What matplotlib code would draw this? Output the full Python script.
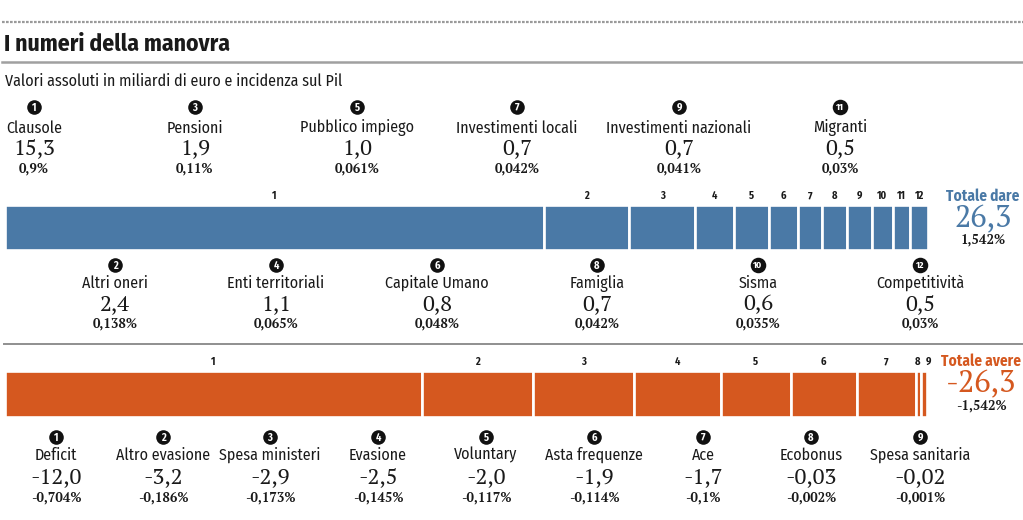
import matplotlib
matplotlib.use("Agg")
import matplotlib.pyplot as plt
import numpy as np

# ---------------- data ----------------
dare_names = ["Clausole", "Altri oneri", "Pensioni", "Enti territoriali", "Pubblico impiego",
              "Capitale Umano", "Investimenti locali", "Famiglia", "Investimenti nazionali",
              "Sisma", "Migranti", "Competitività"]
dare_values = [15.3, 2.4, 1.9, 1.1, 1.0, 0.8, 0.7, 0.7, 0.7, 0.6, 0.5, 0.5]
dare_value_labels = ["15,3", "2,4", "1,9", "1,1", "1,0", "0,8", "0,7", "0,7", "0,7", "0,6", "0,5", "0,5"]
dare_pct_labels = ["0,9%", "0,138%", "0,11%", "0,065%", "0,061%", "0,048%", "0,042%",
                   "0,042%", "0,041%", "0,035%", "0,03%", "0,03%"]
dare_total = "26,3"
dare_total_pct = "1,542%"

avere_names = ["Deficit", "Altro evasione", "Spesa ministeri", "Evasione", "Voluntary",
               "Asta frequenze", "Ace", "Ecobonus", "Spesa sanitaria"]
avere_values = [12.0, 3.2, 2.9, 2.5, 2.0, 1.9, 1.7, 0.03, 0.02]
avere_value_labels = ["-12,0", "-3,2", "-2,9", "-2,5", "-2,0", "-1,9", "-1,7", "-0,03", "-0,02"]
avere_pct_labels = ["-0,704%", "-0,186%", "-0,173%", "-0,145%", "-0,117%", "-0,114%",
                    "-0,1%", "-0,002%", "-0,001%"]
avere_total = "-26,3"
avere_total_pct = "-1,542%"

title = "I numeri della manovra"
subtitle = "Valori assoluti in miliardi di euro e incidenza sul Pil"

# ---------------- style ----------------
W, H = 1023, 520
BLUE = "#4a79a6"
ORANGE = "#d5581f"
SANS = ["Fira Sans Condensed", "IBM Plex Sans Condensed", "Open Sans Condensed", "DejaVu Sans"]
SERIF = ["PT Serif", "Noto Serif", "DejaVu Serif"]
MIN_W = 0.16  # minimum drawn width so tiny segments remain visible

fig = plt.figure(figsize=(W / 100, H / 100), dpi=100)
fig.patch.set_facecolor("white")


def px_axes(x0, y0, x1, y1):
    return fig.add_axes([x0 / W, 1 - y1 / H, (x1 - x0) / W, (y1 - y0) / H])


def draw_bar(values, color, x0, x1, y0, y1):
    ax = px_axes(x0, y0, x1, y1)
    widths = np.maximum(np.array(values, dtype=float), MIN_W)
    lefts = np.concatenate([[0], np.cumsum(widths)[:-1]])
    ax.barh([0], widths, left=lefts, height=1.0, color=color,
            edgecolor="white", linewidth=1.9)
    ax.set_xlim(0, widths.sum())
    ax.set_ylim(-0.5, 0.5)
    ax.axis("off")
    centers = lefts + widths / 2
    return x0 + centers / widths.sum() * (x1 - x0)


top_centers = draw_bar(dare_values, BLUE, 5, 928, 205, 250)
bot_centers = draw_bar(avere_values, ORANGE, 5, 927, 371, 417)

# overlay axes in pixel coordinates for annotations
ov = fig.add_axes([0, 0, 1, 1])
ov.set_xlim(0, W)
ov.set_ylim(H, 0)
ov.axis("off")
ov.patch.set_visible(False)

# rules
ov.plot([2, W], [22, 22], color="#9a9a9a", lw=1.6, ls=(0, (1.2, 0.6)))
ov.plot([2, W], [62, 62], color="#a0a0a0", lw=1.8)
ov.plot([4, W], [344, 344], color="#8f8f8f", lw=1.4)

ov.text(4, 44, title, fontsize=17, fontweight="bold", family=SANS,
        ha="left", va="center", color="#1a1a1a")
ov.text(5, 81, subtitle, fontsize=11.5, family=SANS, ha="left", va="center", color="#1a1a1a")


def label_block(x, y_circle, num, name, val, pct, d_name=20, d_val=41, d_pct=62):
    ov.scatter([x], [y_circle], s=110 if num < 10 else 125, color="#111111", zorder=5,
               linewidths=0)
    ov.text(x, y_circle + 0.5, str(num), fontsize=7.5 if num < 10 else 6.8, fontweight="bold",
            color="white", ha="center", va="center", family=SANS, zorder=6)
    ov.text(x, y_circle + d_name, name, fontsize=11.5, family=SANS, ha="center", va="center",
            color="#1a1a1a")
    ov.text(x, y_circle + d_val, val, fontsize=16, family=SERIF, ha="center", va="center",
            color="#1a1a1a")
    ov.text(x, y_circle + d_pct, pct, fontsize=9.5, family=SERIF, fontweight="bold",
            ha="center", va="center", color="#1a1a1a")


top_above_x = [34, 195, 357, 517, 679, 840]
top_below_x = [115, 276, 437, 597, 758, 920]
for i in range(len(dare_names)):
    if i % 2 == 0:
        x = top_above_x[i // 2]
        label_block(x, 107, i + 1, dare_names[i], dare_value_labels[i], dare_pct_labels[i],
                    21, 41, 62)
    else:
        x = top_below_x[i // 2]
        label_block(x, 265, i + 1, dare_names[i], dare_value_labels[i], dare_pct_labels[i],
                    18, 39, 59)

bot_x = [56, 163, 270, 378, 486, 594, 703, 811, 920]
for i in range(len(avere_names)):
    label_block(bot_x[i], 437, i + 1, avere_names[i], avere_value_labels[i], avere_pct_labels[i],
                18, 40, 61)

# segment index labels
for i, cx in enumerate(top_centers):
    ov.text(cx, 196, str(i + 1), fontsize=7.5, fontweight="bold", family=SANS,
            ha="center", va="center", color="#1a1a1a")
n_bot = len(bot_centers)
for i, cx in enumerate(bot_centers):
    dx = 0
    if i == n_bot - 2:
        dx = -1
    elif i == n_bot - 1:
        dx = 4
    ov.text(cx + dx, 362, str(i + 1), fontsize=7.5, fontweight="bold", family=SANS,
            ha="center", va="center", color="#1a1a1a")

# totals
ov.text(983, 196, "Totale dare", fontsize=11, fontweight="bold", family=SANS,
        ha="center", va="center", color=BLUE)
ov.text(983, 219, dare_total, fontsize=22, family=SERIF, ha="center", va="center", color=BLUE)
ov.text(983, 240, dare_total_pct, fontsize=9.5, fontweight="bold", family=SERIF,
        ha="center", va="center", color="#1a1a1a")

ov.text(981, 361, "Totale avere", fontsize=11, fontweight="bold", family=SANS,
        ha="center", va="center", color=ORANGE)
ov.text(981, 384, avere_total, fontsize=22, family=SERIF, ha="center", va="center", color=ORANGE)
ov.text(981, 406, avere_total_pct, fontsize=9.5, fontweight="bold", family=SERIF,
        ha="center", va="center", color="#1a1a1a")

fig.savefig("out.png", dpi=100, facecolor="white")
